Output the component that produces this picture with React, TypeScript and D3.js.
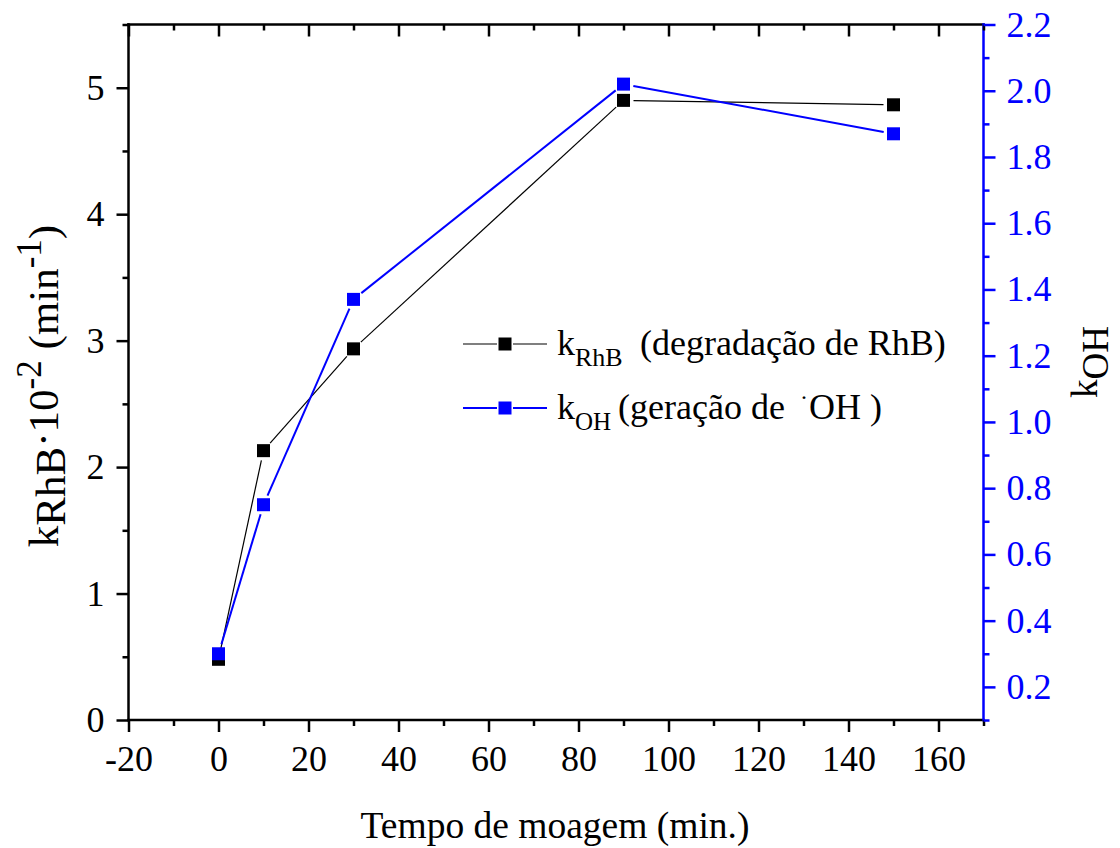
import React, { useEffect, useRef } from 'react';
import * as d3 from 'd3';

const times = [0, 10, 30, 90, 150];
const kRhB = [0.48, 2.13, 2.935, 4.9, 4.865];
const kOH = [0.3, 0.75, 1.37, 2.02, 1.87];

const xMajor = [-20, 0, 20, 40, 60, 80, 100, 120, 140, 160];
const xMinor = [-10, 10, 30, 50, 70, 90, 110, 130, 150, 170];
const yLMajor = [0, 1, 2, 3, 4, 5];
const yLMinor = [0.5, 1.5, 2.5, 3.5, 4.5, 5.5];
const yRMajor = [0.2, 0.4, 0.6, 0.8, 1.0, 1.2, 1.4, 1.6, 1.8, 2.0, 2.2];
const yRMinor = [0.1, 0.3, 0.5, 0.7, 0.9, 1.1, 1.3, 1.5, 1.7, 1.9, 2.1];

const W = 1120, H = 848;
const L = 128.5, R = 983.5, T = 24.5, B = 720;
const FONT = 'Liberation Serif';
const BLUE = '#0000ff';

const x = d3.scaleLinear().domain([-20, 170]).range([L, R]);
const yL = d3.scaleLinear().domain([0, 5.5]).range([B, T]);
const yR = d3.scaleLinear().domain([0.1, 2.2]).range([B, T]);

function gappedSegments(pts: [number, number][], gap: number) {
  const segs: [number, number, number, number][] = [];
  for (let i = 0; i < pts.length - 1; i++) {
    const [x1, y1] = pts[i];
    const [x2, y2] = pts[i + 1];
    const dx = x2 - x1, dy = y2 - y1;
    const len = Math.hypot(dx, dy);
    const ux = dx / len, uy = dy / len;
    segs.push([x1 + ux * gap, y1 + uy * gap, x2 - ux * gap, y2 - uy * gap]);
  }
  return segs;
}

const ts = { fontFamily: FONT };

export default function App() {
  const axRef = useRef<SVGGElement>(null);

  useEffect(() => {
    const g = d3.select(axRef.current);
    g.selectAll('*').remove();
    const style = (sel: any, color: string, showText = true) => {
      sel.select('.domain').remove();
      sel.selectAll('line').attr('stroke', color).attr('stroke-width', 2.5);
      sel.attr('font-family', null).attr('font-size', null);
      sel.selectAll('text').attr('fill', color)
        .style('font-family', FONT).style('font-size', '36px');
      if (!showText) sel.selectAll('text').remove();
    };
    style(g.append('g').attr('transform', `translate(0,${B})`)
      .call(d3.axisBottom(x).tickValues(xMajor).tickSize(12).tickSizeOuter(0).tickPadding(13)
        .tickFormat((d: any) => String(d))), '#000');
    style(g.append('g').attr('transform', `translate(0,${B})`)
      .call(d3.axisBottom(x).tickValues(xMinor).tickSize(6).tickSizeOuter(0).tickFormat(() => '')), '#000', false);
    style(g.append('g').attr('transform', `translate(0,${T})`)
      .call(d3.axisTop(x).tickValues(xMajor).tickSize(-12).tickSizeOuter(0).tickFormat(() => '')), '#000', false);
    style(g.append('g').attr('transform', `translate(0,${T})`)
      .call(d3.axisTop(x).tickValues(xMinor).tickSize(-6).tickSizeOuter(0).tickFormat(() => '')), '#000', false);
    style(g.append('g').attr('transform', `translate(${L},0)`)
      .call(d3.axisLeft(yL).tickValues(yLMajor).tickSize(12).tickSizeOuter(0).tickPadding(12)
        .tickFormat((d: any) => String(d))), '#000');
    style(g.append('g').attr('transform', `translate(${L},0)`)
      .call(d3.axisLeft(yL).tickValues(yLMinor).tickSize(6).tickSizeOuter(0).tickFormat(() => '')), '#000', false);
    style(g.append('g').attr('transform', `translate(${R},0)`)
      .call(d3.axisRight(yR).tickValues(yRMajor).tickSize(12).tickSizeOuter(0).tickPadding(11)
        .tickFormat((d: any) => (+d).toFixed(1))), BLUE);
    style(g.append('g').attr('transform', `translate(${R},0)`)
      .call(d3.axisRight(yR).tickValues(yRMinor).tickSize(6).tickSizeOuter(0).tickFormat(() => '')), BLUE, false);
  }, []);

  const blackPts: [number, number][] = times.map((t, i) => [x(t), yL(kRhB[i])]);
  const bluePts: [number, number][] = times.map((t, i) => [x(t), yR(kOH[i])]);
  const gap = 10;
  const M = 13;

  return (
    <svg width={W} height={H} style={{ position: 'absolute', left: 0, top: 0, background: '#fff' }}>
      <rect x={0} y={0} width={W} height={H} fill="#fff" />
      {gappedSegments(blackPts, gap).map((s, i) => (
        <line key={'bl' + i} x1={s[0]} y1={s[1]} x2={s[2]} y2={s[3]} stroke="#000" strokeWidth={1.2} />
      ))}
      {gappedSegments(bluePts, gap).map((s, i) => (
        <line key={'ul' + i} x1={s[0]} y1={s[1]} x2={s[2]} y2={s[3]} stroke={BLUE} strokeWidth={2} />
      ))}
      {blackPts.map((p, i) => (
        <rect key={'bm' + i} x={p[0] - M / 2} y={p[1] - M / 2} width={M} height={M} fill="#000" />
      ))}
      {bluePts.map((p, i) => (
        <rect key={'um' + i} x={p[0] - M / 2} y={p[1] - M / 2} width={M} height={M} fill={BLUE} />
      ))}

      <line x1={L} y1={T} x2={R} y2={T} stroke="#000" strokeWidth={2.5} strokeLinecap="square" />
      <line x1={L} y1={B} x2={R} y2={B} stroke="#000" strokeWidth={2.5} strokeLinecap="square" />
      <line x1={L} y1={T} x2={L} y2={B} stroke="#000" strokeWidth={2.5} strokeLinecap="square" />
      <line x1={R} y1={T} x2={R} y2={B} stroke={BLUE} strokeWidth={2.5} strokeLinecap="square" />
      <g ref={axRef} />

      <line x1={463} y1={344} x2={497} y2={344} stroke="#000" strokeWidth={1.2} />
      <line x1={513} y1={344} x2={547} y2={344} stroke="#000" strokeWidth={1.2} />
      <rect x={505 - M / 2} y={344 - M / 2} width={M} height={M} fill="#000" />
      <text x={557} y={355} fontSize={36} fill="#000" style={ts}>
        k<tspan fontSize={26} dy={11}>RhB</tspan><tspan x={640} dy={-11}>(degradação de RhB)</tspan>
      </text>
      <line x1={463} y1={408} x2={497} y2={408} stroke={BLUE} strokeWidth={2} />
      <line x1={513} y1={408} x2={547} y2={408} stroke={BLUE} strokeWidth={2} />
      <rect x={505 - M / 2} y={408 - M / 2} width={M} height={M} fill={BLUE} />
      <text x={557} y={419} fontSize={36} fill="#000" style={ts}>
        k<tspan fontSize={25} dy={11}>OH</tspan><tspan x={618} dy={-11}>(geração de</tspan>
        <tspan x={800} fontSize={24} dy={-14}>·</tspan><tspan x={809} dy={14}>OH )</tspan>
      </text>

      <text x={555} y={838} fontSize={37.5} textAnchor="middle" fill="#000" style={ts}>Tempo de moagem (min.)</text>
      <text transform="translate(58,386) rotate(-90)" fontSize={43} textAnchor="middle" fill="#000" style={ts}>
        k<tspan dy={7}>RhB</tspan><tspan dy={-7}>·10</tspan><tspan fontSize={35} dy={-17}>-2</tspan>
        <tspan dy={17}> (min</tspan><tspan fontSize={35} dy={-17}>-1</tspan><tspan dy={17}>)</tspan>
      </text>
      <text transform="translate(1097,362) rotate(-90)" fontSize={37} textAnchor="middle" fill="#000" style={ts}>
        k<tspan dy={11}>OH</tspan>
      </text>
    </svg>
  );
}
